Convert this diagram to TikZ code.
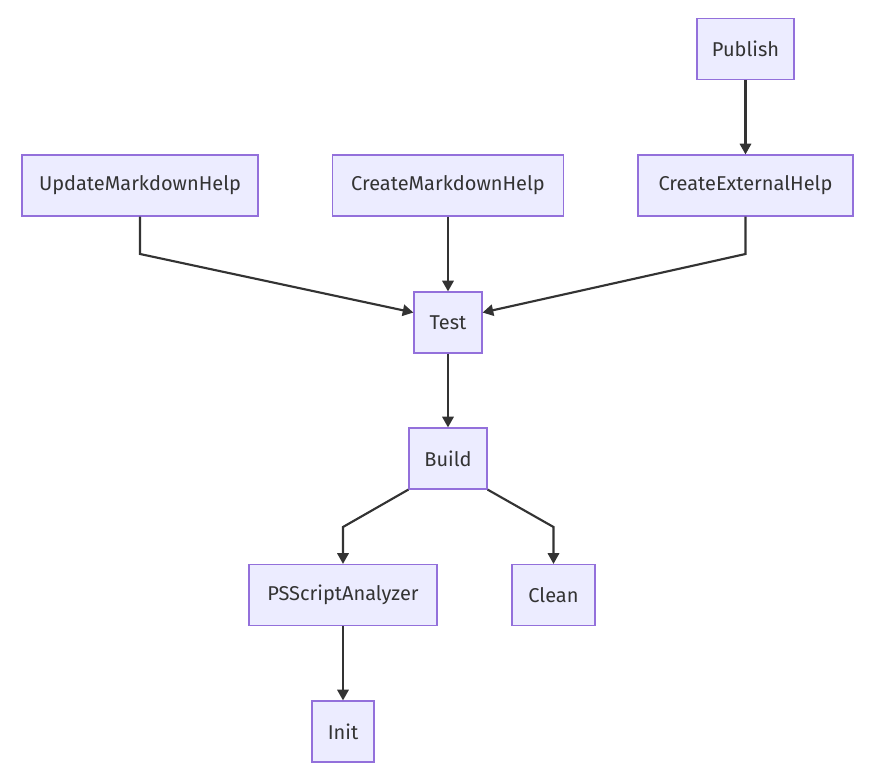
\documentclass[tikz,border=0pt]{standalone}
\usepackage{fontspec}
\setmainfont{Fira Sans}
\usetikzlibrary{arrows.meta,calc}
\definecolor{nodefill}{HTML}{ECECFF}
\definecolor{nodeborder}{HTML}{9370DB}
\definecolor{edgecol}{HTML}{333333}
\begin{document}
\begin{tikzpicture}[x=0.75pt,y=-0.75pt,
  box/.style={draw=nodeborder,fill=nodefill,line width=0.9pt,minimum height=45.75pt,inner sep=0pt,text=edgecol,font=\fontsize{15}{17}\selectfont},
  conn/.style={draw=edgecol,line width=1.6pt,-{Triangle[length=8pt,width=8.5pt]}}]
\useasboundingbox[fill=white] (0,0) rectangle (876,780);
\node[box,minimum width=72.75pt] (publish) at (745.5,49) {Publish};
\node[box,minimum width=177pt] (update) at (140,185.5) {UpdateMarkdownHelp};
\node[box,minimum width=173.25pt] (cmd) at (448,185.5) {CreateMarkdownHelp};
\node[box,minimum width=161.25pt] (cext) at (745.5,185.5) {CreateExternalHelp};
\node[box,minimum width=51pt] (test) at (448,322.5) {Test};
\node[box,minimum width=58.5pt] (build) at (448,458.5) {Build};
\node[box,minimum width=141pt] (psa) at (343,595) {PSScriptAnalyzer};
\node[box,minimum width=62.25pt] (clean) at (553.5,595) {Clean};
\node[box,minimum width=46.5pt] (init) at (343,731.5) {Init};
\coordinate (b1) at (140,254);
\coordinate (b2) at (745.5,254);
\coordinate (b3) at (343,527);
\coordinate (b4) at (553.5,527);
\draw[conn] (publish) -- (cext);
\draw[conn] (update.south) -- (b1) -- ($(test.north west)!0.34!(test.south west)$);
\draw[conn] (cmd) -- (test);
\draw[conn] (cext.south) -- (b2) -- ($(test.north east)!0.34!(test.south east)$);
\draw[conn] (test) -- (build);
\draw[conn] (build.south west) -- (b3) -- (psa.north);
\draw[conn] (build.south east) -- (b4) -- (clean.north);
\draw[conn] (psa) -- (init);
\end{tikzpicture}
\end{document}
